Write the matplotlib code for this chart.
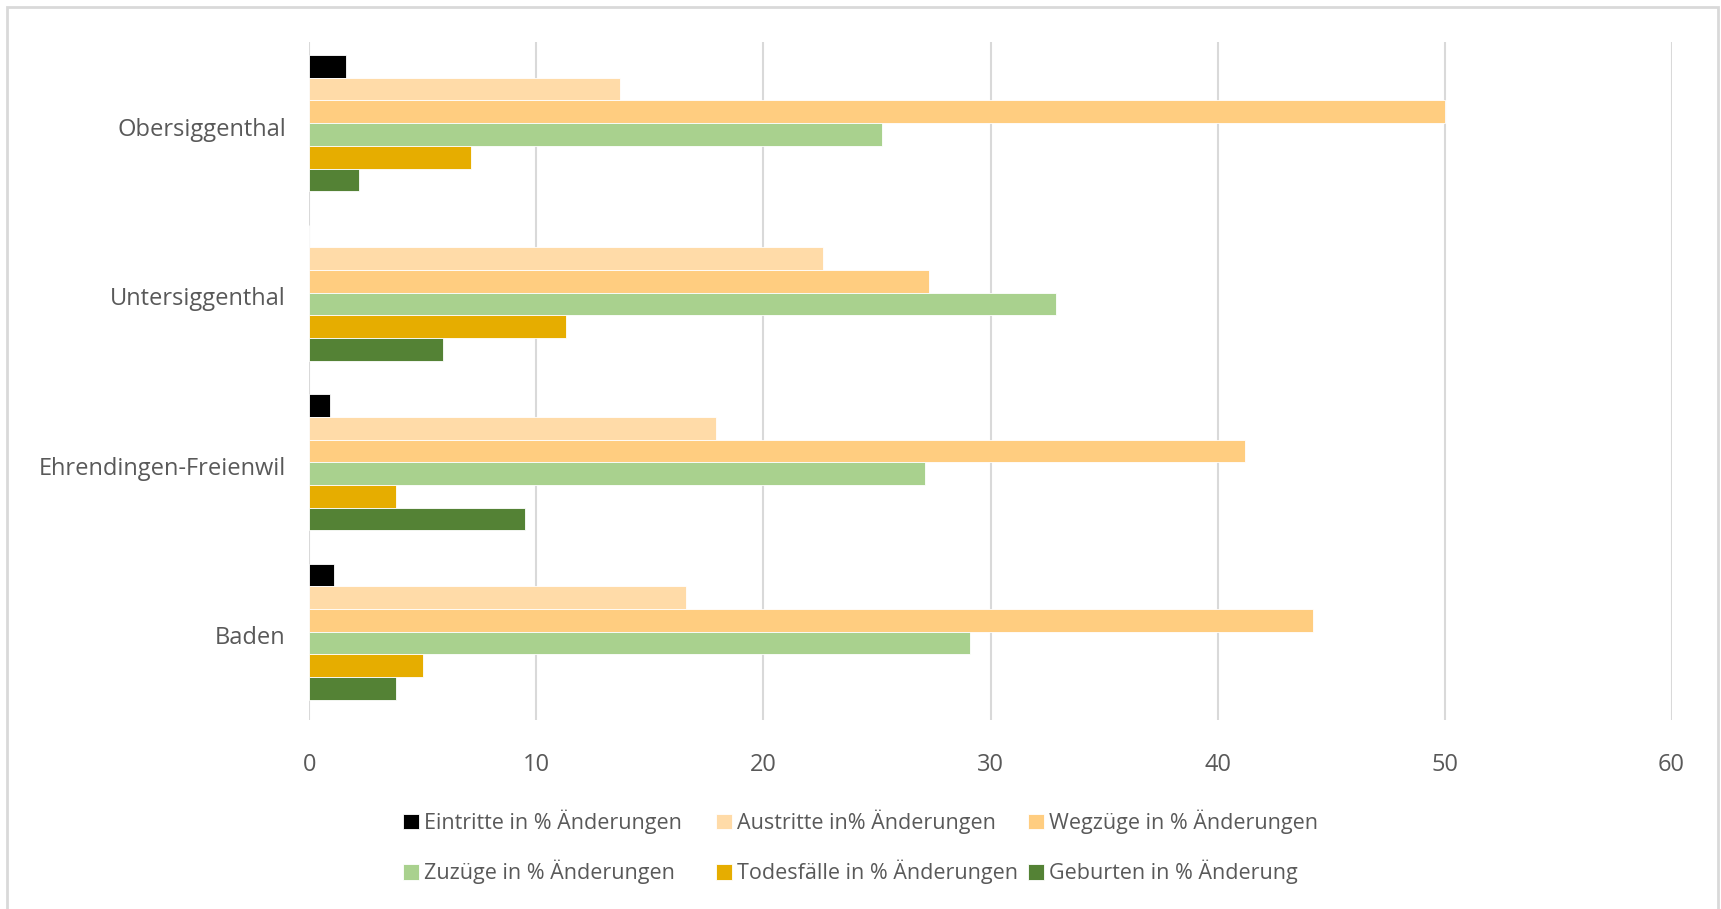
import numpy as np
import matplotlib
matplotlib.use("Agg")
import matplotlib.pyplot as plt
from matplotlib.patches import Rectangle

# Gemeinden, von unten nach oben wie im Diagramm
gemeinden = ["Baden", "Ehrendingen-Freienwil", "Untersiggenthal", "Obersiggenthal"]

serien = [
    "Eintritte in % Änderungen",
    "Austritte in% Änderungen",
    "Wegzüge in % Änderungen",
    "Zuzüge in % Änderungen",
    "Todesfälle in % Änderungen",
    "Geburten in % Änderung",
]

# Werte je Serie, Reihenfolge wie gemeinden
eintritte = [1.1, 0.9, 0.0, 1.6]
austritte = [16.6, 17.9, 22.6, 13.7]
wegzuege = [44.2, 41.2, 27.3, 50.0]
zuzuege = [29.1, 27.1, 32.9, 25.2]
todesfaelle = [5.0, 3.8, 11.3, 7.1]
geburten = [3.8, 9.5, 5.9, 2.2]

werte = [eintritte, austritte, wegzuege, zuzuege, todesfaelle, geburten]
farben = ["#000000", "#FFDBA8", "#FFCD80", "#A9D18E", "#E6AD00", "#548235"]

plt.rcParams['font.family'] = ['Open Sans', 'DejaVu Sans']
textfarbe = '#595959'

W, H = 1721, 909
fig = plt.figure(figsize=(W / 100, H / 100), dpi=100)
ax = fig.add_axes([0.1798, 0.208, 0.9713 - 0.1798, 0.954 - 0.208])

y = np.arange(len(gemeinden))
h = 0.134
n = len(serien)
for i, (name, vals, col) in enumerate(zip(serien, werte, farben)):
    # erste Serie oben in der Gruppe
    off = ((n - 1) / 2 - i) * h + 0.02
    ax.barh(y + off, vals, height=h, color=col, edgecolor='white',
            linewidth=0.6, label=name, zorder=3)

ax.set_xlim(0, 60)
ax.set_ylim(-0.5, len(gemeinden) - 0.5)
ax.set_xticks(np.arange(0, 61, 10))
ax.set_yticks(y)
ax.set_yticklabels(gemeinden)
ax.grid(axis='x', color='#D9D9D9', lw=1.5, zorder=0)
for s in ax.spines.values():
    s.set_visible(False)
ax.tick_params(axis='both', length=0, colors=textfarbe, labelsize=17)
ax.tick_params(axis='x', pad=24)
ax.tick_params(axis='y', pad=17)

# Legende: zwei Zeilen, drei feste Spalten (je eine Legende pro Spalte)
hnd, lab = ax.get_legend_handles_labels()
spalten_x = [403, 716, 1028]
for k, sx in enumerate(spalten_x):
    idx = [k, k + 3]
    leg = fig.legend([hnd[j] for j in idx], [lab[j] for j in idx],
                     loc='center left', bbox_to_anchor=(sx / W, 1 - 847 / H),
                     frameon=False, fontsize=15.5, handlelength=0.72, handleheight=0.72,
                     handletextpad=0.25, labelspacing=1.2, borderpad=0,
                     borderaxespad=0)
    for t in leg.get_texts():
        t.set_color(textfarbe)

# Rahmen um das Diagramm
fig.patches.append(Rectangle((7 / W, -0.01), (1718 - 7) / W, 1 - 7 / H + 0.01,
                             transform=fig.transFigure, fill=False,
                             edgecolor='#D9D9D9', lw=2))

fig.savefig('out.png', dpi=100)
